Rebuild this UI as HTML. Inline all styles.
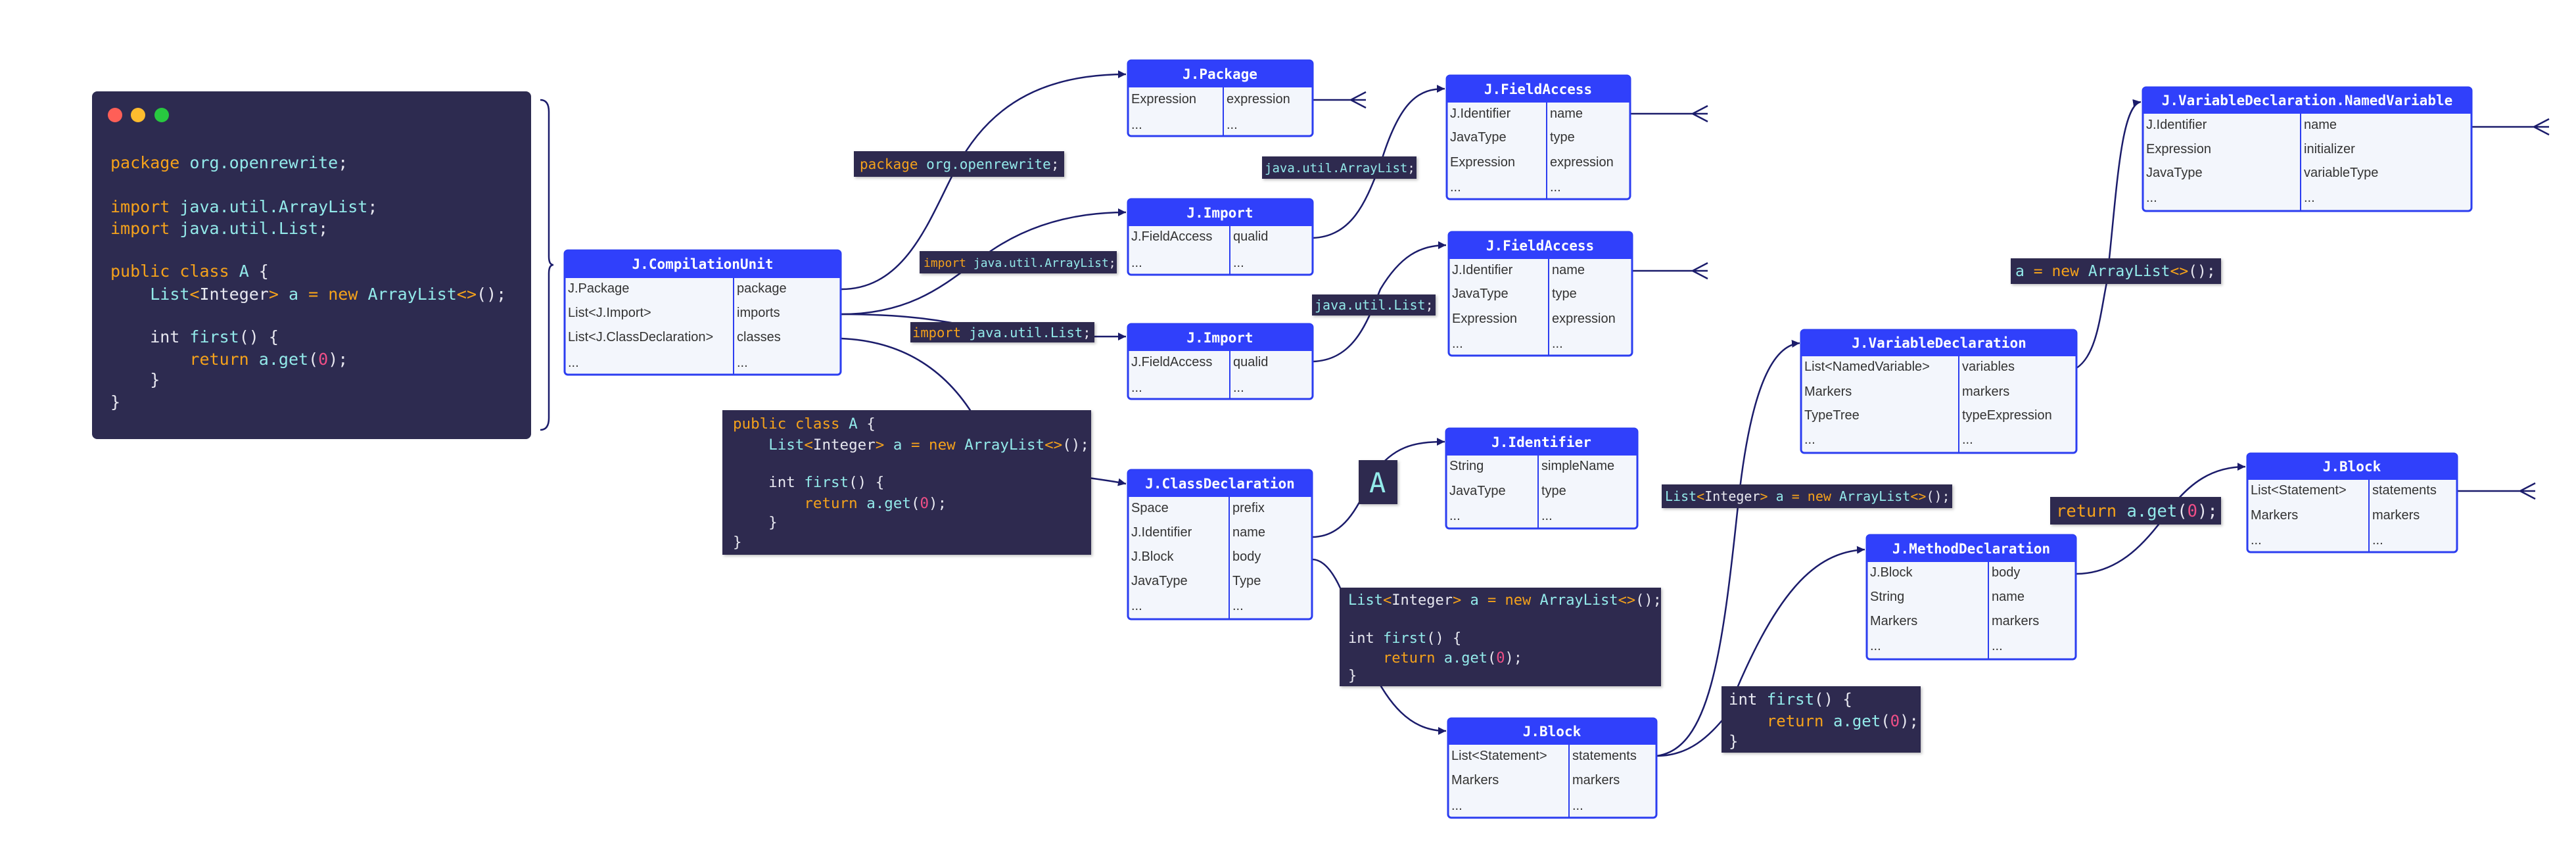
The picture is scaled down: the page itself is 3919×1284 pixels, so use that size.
<!DOCTYPE html>
<html><head><meta charset="utf-8"><style>
html,body{margin:0;padding:0;background:#fff;}
svg{display:block}
.t{font-family:"Liberation Sans",sans-serif;font-size:20px;fill:#333}
.h{font-family:"DejaVu Sans Mono","Liberation Mono",monospace;font-size:21px;font-weight:bold;fill:#fff}
.c{font-family:"DejaVu Sans Mono","Liberation Mono",monospace;white-space:pre;fill:#e8e8f0}
.c text{white-space:pre}
.k{fill:#f5a21b}.i{fill:#93eaea}.n{fill:#f04f87}.w{fill:#e8e8f0}
.e{fill:none;stroke:#1b1c6b;stroke-width:2.5}
</style></head><body>
<svg width="3919" height="1284" viewBox="0 0 3919 1284" xmlns="http://www.w3.org/2000/svg">
<defs>
<marker id="a" markerWidth="12" markerHeight="12" refX="10" refY="5" orient="auto" markerUnits="userSpaceOnUse" viewBox="0 0 10 10"><path d="M0,0 L10,5 L0,10 z" fill="#1b1c6b"/></marker>
<filter id="s" x="-5%" y="-5%" width="110%" height="115%"><feDropShadow dx="2" dy="2" stdDeviation="2" flood-color="#000" flood-opacity="0.25"/></filter>
</defs>

<!-- code window -->
<rect x="140" y="139" width="668" height="529" rx="8" fill="#2d2b50"/>
<circle cx="175" cy="175" r="11" fill="#ff5f57"/>
<circle cx="210" cy="175" r="11" fill="#febc2e"/>
<circle cx="246" cy="175" r="11" fill="#28c840"/>
<g class="c" font-size="25" xml:space="preserve">
<text x="168" y="256"><tspan class="k">package</tspan> <tspan class="i">org.openrewrite</tspan>;</text>
<text x="168" y="323"><tspan class="k">import</tspan> <tspan class="i">java.util.ArrayList</tspan>;</text>
<text x="168" y="356"><tspan class="k">import</tspan> <tspan class="i">java.util.List</tspan>;</text>
<text x="168" y="421"><tspan class="k">public class</tspan> <tspan class="i">A</tspan> {</text>
<text x="168" y="456">    <tspan class="i">List</tspan><tspan class="k">&lt;</tspan>Integer<tspan class="k">&gt;</tspan> <tspan class="i">a</tspan> <tspan class="k">=</tspan> <tspan class="k">new</tspan> <tspan class="i">ArrayList</tspan><tspan class="k">&lt;&gt;</tspan>();</text>
<text x="168" y="521">    int <tspan class="i">first</tspan>() {</text>
<text x="168" y="555">        <tspan class="k">return</tspan> <tspan class="i">a.get</tspan>(<tspan class="n">0</tspan>);</text>
<text x="168" y="586">    }</text>
<text x="168" y="620">}</text>
</g>
<!-- brace -->
<path class="e" d="M822,152 Q835,152 835,170 L835,390 Q835,403 842,403 Q835,403 835,416 L835,636 Q835,654 822,654"/>

<!-- connectors -->
<path class="e" marker-end="url(#a)" d="M1280,440 C1380,440 1415,330 1455,255 C1510,150 1600,113 1713,113"/>
<path class="e" marker-end="url(#a)" d="M1280,478 C1400,478 1450,420 1510,380 C1570,340 1640,323 1713,323"/>
<path class="e" marker-end="url(#a)" d="M1280,478 C1380,478 1440,488 1490,500 L1665,512 L1713,512"/>
<path class="e" marker-end="url(#a)" d="M1280,515 C1400,520 1470,590 1510,690 C1560,720 1660,725 1713,736"/>
<path class="e" marker-end="url(#a)" d="M1997,362 C2060,360 2080,300 2100,250 C2130,150 2160,135 2198,135"/>
<path class="e" marker-end="url(#a)" d="M1997,550 C2060,548 2080,490 2100,440 C2130,390 2160,373 2200,373"/>
<path class="e" marker-end="url(#a)" d="M1996,817 C2050,817 2070,760 2090,720 C2120,680 2150,672 2198,672"/>
<path class="e" marker-end="url(#a)" d="M1996,851 C2030,851 2050,920 2070,980 C2110,1080 2150,1112 2200,1112"/>
<path class="e" marker-end="url(#a)" d="M2520,1150 C2600,1140 2620,1000 2645,760 C2665,580 2700,525 2738,522"/>
<path class="e" marker-end="url(#a)" d="M2520,1150 C2570,1150 2600,1120 2625,1090 C2700,900 2760,840 2837,836"/>
<path class="e" marker-end="url(#a)" d="M3159,560 C3190,540 3195,480 3205,430 C3220,300 3225,160 3257,155"/>
<path class="e" marker-end="url(#a)" d="M3158,873 C3220,873 3260,830 3290,790 C3330,730 3370,710 3416,710"/>

<!-- crow feet -->
<g class="e">
<path d="M1997,152 L2078,152 M2078,140 L2055,152 L2078,164"/>
<path d="M2480,173 L2598,173 M2598,161 L2575,173 L2598,185"/>
<path d="M2483,412 L2598,412 M2598,400 L2575,412 L2598,424"/>
<path d="M3760,193 L3878,193 M3878,181 L3855,193 L3878,205"/>
<path d="M3738,747 L3857,747 M3857,735 L3834,747 L3857,759"/>
</g>

<!-- dark labels -->
<g filter="url(#s)" fill="#2d2b50">
<rect x="1299" y="230" width="320" height="39"/>
<rect x="1920" y="238" width="235" height="34"/>
<rect x="1399" y="382" width="300" height="34"/>
<rect x="1996" y="448" width="188" height="32"/>
<rect x="1385" y="490" width="280" height="31"/>
<rect x="1099" y="624" width="561" height="220"/>
<rect x="2067" y="700" width="59" height="67"/>
<rect x="2038" y="894" width="489" height="150"/>
<rect x="3059" y="393" width="320" height="39"/>
<rect x="2528" y="737" width="442" height="36"/>
<rect x="3119" y="756" width="260" height="42"/>
<rect x="2619" y="1044" width="303" height="101"/>
</g>
<g class="c" xml:space="preserve">
<text x="1308" y="257" font-size="21"><tspan class="k">package</tspan> <tspan class="i">org.openrewrite</tspan>;</text>
<text x="1924" y="262" font-size="19"><tspan class="i">java.util.ArrayList</tspan>;</text>
<text x="1405" y="406" font-size="18"><tspan class="k">import</tspan> <tspan class="i">java.util.ArrayList</tspan>;</text>
<text x="2000" y="471" font-size="20"><tspan class="i">java.util.List</tspan>;</text>
<text x="1388" y="513" font-size="20.5"><tspan class="k">import</tspan> <tspan class="i">java.util.List</tspan>;</text>
<g font-size="22.5">
<text x="1115" y="652"><tspan class="k">public class</tspan> <tspan class="i">A</tspan> {</text>
<text x="1115" y="684">    <tspan class="i">List</tspan><tspan class="k">&lt;</tspan>Integer<tspan class="k">&gt;</tspan> <tspan class="i">a</tspan> <tspan class="k">=</tspan> <tspan class="k">new</tspan> <tspan class="i">ArrayList</tspan><tspan class="k">&lt;&gt;</tspan>();</text>
<text x="1115" y="741">    int <tspan class="i">first</tspan>() {</text>
<text x="1115" y="773">        <tspan class="k">return</tspan> <tspan class="i">a.get</tspan>(<tspan class="n">0</tspan>);</text>
<text x="1115" y="802">    }</text>
<text x="1115" y="832">}</text>
</g>
<text x="2083" y="749" font-size="42"><tspan class="i">A</tspan></text>
<g font-size="22">
<text x="2051" y="920"><tspan class="i">List</tspan><tspan class="k">&lt;</tspan>Integer<tspan class="k">&gt;</tspan> <tspan class="i">a</tspan> <tspan class="k">=</tspan> <tspan class="k">new</tspan> <tspan class="i">ArrayList</tspan><tspan class="k">&lt;&gt;</tspan>();</text>
<text x="2051" y="978">int <tspan class="i">first</tspan>() {</text>
<text x="2051" y="1008">    <tspan class="k">return</tspan> <tspan class="i">a.get</tspan>(<tspan class="n">0</tspan>);</text>
<text x="2051" y="1035">}</text>
</g>
<text x="3066" y="420" font-size="23"><tspan class="i">a</tspan> <tspan class="k">=</tspan> <tspan class="k">new</tspan> <tspan class="i">ArrayList</tspan><tspan class="k">&lt;&gt;</tspan>();</text>
<text x="2533" y="762" font-size="20"><tspan class="i">List</tspan><tspan class="k">&lt;</tspan>Integer<tspan class="k">&gt;</tspan> <tspan class="i">a</tspan> <tspan class="k">=</tspan> <tspan class="k">new</tspan> <tspan class="i">ArrayList</tspan><tspan class="k">&lt;&gt;</tspan>();</text>
<text x="3128" y="786" font-size="25.5"><tspan class="k">return</tspan> <tspan class="i">a.get</tspan>(<tspan class="n">0</tspan>);</text>
<g font-size="24">
<text x="2630" y="1072">int <tspan class="i">first</tspan>() {</text>
<text x="2630" y="1105">    <tspan class="k">return</tspan> <tspan class="i">a.get</tspan>(<tspan class="n">0</tspan>);</text>
<text x="2630" y="1136">}</text>
</g>
</g>

<!-- tables -->
<g>
<rect x="859" y="381" width="420" height="189" rx="5" fill="#f3f6fc" stroke="#2b3df0" stroke-width="3"/>
<rect x="859" y="381" width="420" height="42" rx="5" fill="#3040fb"/><rect x="859" y="405" width="420" height="18" fill="#3040fb"/>
<line x1="1116" y1="423" x2="1116" y2="570" stroke="#2b3df0" stroke-width="2"/>
<text class="h" x="1069" y="409" text-anchor="middle">J.CompilationUnit</text>
<text class="t" x="864" y="445">J.Package</text><text class="t" x="1121" y="445">package</text>
<text class="t" x="864" y="482">List&lt;J.Import&gt;</text><text class="t" x="1121" y="482">imports</text>
<text class="t" x="864" y="519">List&lt;J.ClassDeclaration&gt;</text><text class="t" x="1121" y="519">classes</text>
<text class="t" x="864" y="558">...</text><text class="t" x="1121" y="558">...</text>
</g>
<g>
<rect x="1716" y="92" width="281" height="115" rx="5" fill="#f3f6fc" stroke="#2b3df0" stroke-width="3"/>
<rect x="1716" y="92" width="281" height="41" rx="5" fill="#3040fb"/><rect x="1716" y="115" width="281" height="18" fill="#3040fb"/>
<line x1="1861" y1="133" x2="1861" y2="207" stroke="#2b3df0" stroke-width="2"/>
<text class="h" x="1856" y="120" text-anchor="middle">J.Package</text>
<text class="t" x="1721" y="157">Expression</text><text class="t" x="1866" y="157">expression</text>
<text class="t" x="1721" y="196">...</text><text class="t" x="1866" y="196">...</text>
</g>
<g>
<rect x="1716" y="303" width="281" height="115" rx="5" fill="#f3f6fc" stroke="#2b3df0" stroke-width="3"/>
<rect x="1716" y="303" width="281" height="41" rx="5" fill="#3040fb"/><rect x="1716" y="326" width="281" height="18" fill="#3040fb"/>
<line x1="1871" y1="344" x2="1871" y2="418" stroke="#2b3df0" stroke-width="2"/>
<text class="h" x="1856" y="331" text-anchor="middle">J.Import</text>
<text class="t" x="1721" y="366">J.FieldAccess</text><text class="t" x="1876" y="366">qualid</text>
<text class="t" x="1721" y="406">...</text><text class="t" x="1876" y="406">...</text>
</g>
<g>
<rect x="1716" y="493" width="281" height="114" rx="5" fill="#f3f6fc" stroke="#2b3df0" stroke-width="3"/>
<rect x="1716" y="493" width="281" height="41" rx="5" fill="#3040fb"/><rect x="1716" y="516" width="281" height="18" fill="#3040fb"/>
<line x1="1871" y1="534" x2="1871" y2="607" stroke="#2b3df0" stroke-width="2"/>
<text class="h" x="1856" y="521" text-anchor="middle">J.Import</text>
<text class="t" x="1721" y="557">J.FieldAccess</text><text class="t" x="1876" y="557">qualid</text>
<text class="t" x="1721" y="596">...</text><text class="t" x="1876" y="596">...</text>
</g>
<g>
<rect x="2201" y="115" width="279" height="188" rx="5" fill="#f3f6fc" stroke="#2b3df0" stroke-width="3"/>
<rect x="2201" y="115" width="279" height="41" rx="5" fill="#3040fb"/><rect x="2201" y="138" width="279" height="18" fill="#3040fb"/>
<line x1="2353" y1="156" x2="2353" y2="303" stroke="#2b3df0" stroke-width="2"/>
<text class="h" x="2340" y="143" text-anchor="middle">J.FieldAccess</text>
<text class="t" x="2206" y="179">J.Identifier</text><text class="t" x="2358" y="179">name</text>
<text class="t" x="2206" y="215">JavaType</text><text class="t" x="2358" y="215">type</text>
<text class="t" x="2206" y="253">Expression</text><text class="t" x="2358" y="253">expression</text>
<text class="t" x="2206" y="291">...</text><text class="t" x="2358" y="291">...</text>
</g>
<g>
<rect x="2204" y="353" width="279" height="188" rx="5" fill="#f3f6fc" stroke="#2b3df0" stroke-width="3"/>
<rect x="2204" y="353" width="279" height="41" rx="5" fill="#3040fb"/><rect x="2204" y="376" width="279" height="18" fill="#3040fb"/>
<line x1="2356" y1="394" x2="2356" y2="541" stroke="#2b3df0" stroke-width="2"/>
<text class="h" x="2343" y="381" text-anchor="middle">J.FieldAccess</text>
<text class="t" x="2209" y="417">J.Identifier</text><text class="t" x="2361" y="417">name</text>
<text class="t" x="2209" y="453">JavaType</text><text class="t" x="2361" y="453">type</text>
<text class="t" x="2209" y="491">Expression</text><text class="t" x="2361" y="491">expression</text>
<text class="t" x="2209" y="529">...</text><text class="t" x="2361" y="529">...</text>
</g>
<g>
<rect x="1716" y="715" width="280" height="227" rx="5" fill="#f3f6fc" stroke="#2b3df0" stroke-width="3"/>
<rect x="1716" y="715" width="280" height="41" rx="5" fill="#3040fb"/><rect x="1716" y="738" width="280" height="18" fill="#3040fb"/>
<line x1="1870" y1="756" x2="1870" y2="942" stroke="#2b3df0" stroke-width="2"/>
<text class="h" x="1856" y="743" text-anchor="middle">J.ClassDeclaration</text>
<text class="t" x="1721" y="779">Space</text><text class="t" x="1875" y="779">prefix</text>
<text class="t" x="1721" y="816">J.Identifier</text><text class="t" x="1875" y="816">name</text>
<text class="t" x="1721" y="853">J.Block</text><text class="t" x="1875" y="853">body</text>
<text class="t" x="1721" y="890">JavaType</text><text class="t" x="1875" y="890">Type</text>
<text class="t" x="1721" y="928">...</text><text class="t" x="1875" y="928">...</text>
</g>
<g>
<rect x="2200" y="652" width="291" height="152" rx="5" fill="#f3f6fc" stroke="#2b3df0" stroke-width="3"/>
<rect x="2200" y="652" width="291" height="41" rx="5" fill="#3040fb"/><rect x="2200" y="675" width="291" height="18" fill="#3040fb"/>
<line x1="2340" y1="693" x2="2340" y2="804" stroke="#2b3df0" stroke-width="2"/>
<text class="h" x="2345" y="680" text-anchor="middle">J.Identifier</text>
<text class="t" x="2205" y="715">String</text><text class="t" x="2345" y="715">simpleName</text>
<text class="t" x="2205" y="753">JavaType</text><text class="t" x="2345" y="753">type</text>
<text class="t" x="2205" y="791">...</text><text class="t" x="2345" y="791">...</text>
</g>
<g>
<rect x="2203" y="1093" width="317" height="151" rx="5" fill="#f3f6fc" stroke="#2b3df0" stroke-width="3"/>
<rect x="2203" y="1093" width="317" height="40" rx="5" fill="#3040fb"/><rect x="2203" y="1115" width="317" height="18" fill="#3040fb"/>
<line x1="2387" y1="1133" x2="2387" y2="1244" stroke="#2b3df0" stroke-width="2"/>
<text class="h" x="2361" y="1120" text-anchor="middle">J.Block</text>
<text class="t" x="2208" y="1156">List&lt;Statement&gt;</text><text class="t" x="2392" y="1156">statements</text>
<text class="t" x="2208" y="1193">Markers</text><text class="t" x="2392" y="1193">markers</text>
<text class="t" x="2208" y="1232">...</text><text class="t" x="2392" y="1232">...</text>
</g>
<g>
<rect x="2740" y="502" width="419" height="187" rx="5" fill="#f3f6fc" stroke="#2b3df0" stroke-width="3"/>
<rect x="2740" y="502" width="419" height="40" rx="5" fill="#3040fb"/><rect x="2740" y="524" width="419" height="18" fill="#3040fb"/>
<line x1="2980" y1="542" x2="2980" y2="689" stroke="#2b3df0" stroke-width="2"/>
<text class="h" x="2950" y="529" text-anchor="middle">J.VariableDeclaration</text>
<text class="t" x="2745" y="564">List&lt;NamedVariable&gt;</text><text class="t" x="2985" y="564">variables</text>
<text class="t" x="2745" y="602">Markers</text><text class="t" x="2985" y="602">markers</text>
<text class="t" x="2745" y="638">TypeTree</text><text class="t" x="2985" y="638">typeExpression</text>
<text class="t" x="2745" y="675">...</text><text class="t" x="2985" y="675">...</text>
</g>
<g>
<rect x="3260" y="133" width="500" height="188" rx="5" fill="#f3f6fc" stroke="#2b3df0" stroke-width="3"/>
<rect x="3260" y="133" width="500" height="40" rx="5" fill="#3040fb"/><rect x="3260" y="155" width="500" height="18" fill="#3040fb"/>
<line x1="3500" y1="173" x2="3500" y2="321" stroke="#2b3df0" stroke-width="2"/>
<text class="h" x="3510" y="160" text-anchor="middle">J.VariableDeclaration.NamedVariable</text>
<text class="t" x="3265" y="196">J.Identifier</text><text class="t" x="3505" y="196">name</text>
<text class="t" x="3265" y="233">Expression</text><text class="t" x="3505" y="233">initializer</text>
<text class="t" x="3265" y="269">JavaType</text><text class="t" x="3505" y="269">variableType</text>
<text class="t" x="3265" y="307">...</text><text class="t" x="3505" y="307">...</text>
</g>
<g>
<rect x="2840" y="814" width="318" height="189" rx="5" fill="#f3f6fc" stroke="#2b3df0" stroke-width="3"/>
<rect x="2840" y="814" width="318" height="41" rx="5" fill="#3040fb"/><rect x="2840" y="837" width="318" height="18" fill="#3040fb"/>
<line x1="3025" y1="855" x2="3025" y2="1003" stroke="#2b3df0" stroke-width="2"/>
<text class="h" x="2999" y="842" text-anchor="middle">J.MethodDeclaration</text>
<text class="t" x="2845" y="877">J.Block</text><text class="t" x="3030" y="877">body</text>
<text class="t" x="2845" y="914">String</text><text class="t" x="3030" y="914">name</text>
<text class="t" x="2845" y="951">Markers</text><text class="t" x="3030" y="951">markers</text>
<text class="t" x="2845" y="989">...</text><text class="t" x="3030" y="989">...</text>
</g>
<g>
<rect x="3419" y="690" width="319" height="150" rx="5" fill="#f3f6fc" stroke="#2b3df0" stroke-width="3"/>
<rect x="3419" y="690" width="319" height="40" rx="5" fill="#3040fb"/><rect x="3419" y="712" width="319" height="18" fill="#3040fb"/>
<line x1="3604" y1="730" x2="3604" y2="840" stroke="#2b3df0" stroke-width="2"/>
<text class="h" x="3578" y="717" text-anchor="middle">J.Block</text>
<text class="t" x="3424" y="752">List&lt;Statement&gt;</text><text class="t" x="3609" y="752">statements</text>
<text class="t" x="3424" y="790">Markers</text><text class="t" x="3609" y="790">markers</text>
<text class="t" x="3424" y="828">...</text><text class="t" x="3609" y="828">...</text>
</g>
</svg>
</body></html>
